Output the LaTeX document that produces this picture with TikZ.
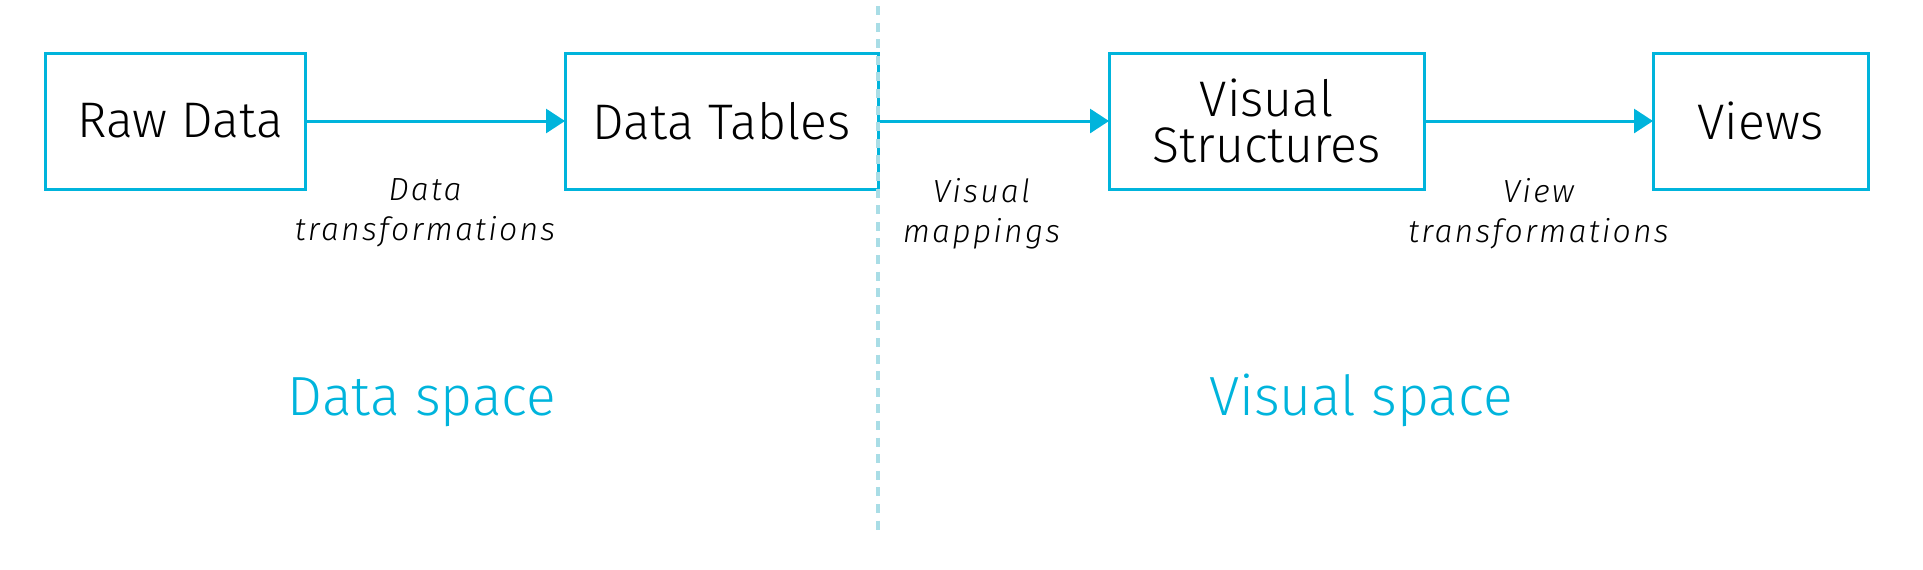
\documentclass[tikz,border=0pt]{standalone}
\usepackage{fontspec}
\setmainfont{Fira Sans Light}
\usepackage{tikz}
\usetikzlibrary{positioning, arrows.meta}

\definecolor{vizblue}{HTML}{00B4DC}
\definecolor{divblue}{HTML}{A9DDE6}

\begin{document}
\begin{tikzpicture}[
    stage/.style={draw=vizblue, line width=1.5pt, minimum height=68pt, inner sep=0pt, outer sep=0pt,
      align=center, font=\fontsize{25}{23}\selectfont},
    flow/.style={draw=vizblue, line width=1.5pt, -{Triangle[length=9.5pt, width=12pt]}},
    note/.style={align=center, inner sep=0pt, font=\fontsize{16}{20}\selectfont\itshape\addfontfeature{LetterSpace=7}},
    space/.style={anchor=base, text=vizblue, font=\fontsize{27.6}{30}\selectfont},
    divider/.style={draw=divblue, line width=2pt, dash pattern=on 4.5pt off 3.8pt}
  ]
  \useasboundingbox (0,0) rectangle (961.5pt,-284.5pt);

  % Pipeline stages
  \node[stage, minimum width=130pt] (raw) at (87.5pt,-60.5pt) {\hspace*{5pt}Raw Data};
  \node[stage, minimum width=156.5pt, right=130pt of raw] (tables) {Data Tables};
  \node[stage, minimum width=157.5pt, right=115.5pt of tables] (visual) {Visual\\Structures};
  \node[stage, minimum width=107.5pt, right=114.5pt of visual] (views) {Views};

  % Transformations between stages
  \draw[flow] (raw) -- node[note, below=28pt, xshift=-5pt] {Data\\transformations} (tables);
  \draw[flow] (tables) -- node[note, below=28pt, xshift=-6pt] {Visual\\mappings} (visual);
  \draw[flow] (visual) -- node[note, below=28pt] {View\\transformations} (views);

  % Split between the two spaces
  \coordinate (divtop) at (0,-3pt);
  \coordinate (divbot) at (0,-266.5pt);
  \draw[divider] (tables.east |- divtop) -- (tables.east |- divbot);

  \node[space] (dataspace) at (211pt,-207.5pt) {Data space};
  \node[space] (visualspace) at (680.5pt,-207.5pt) {Visual space};
\end{tikzpicture}
\end{document}
